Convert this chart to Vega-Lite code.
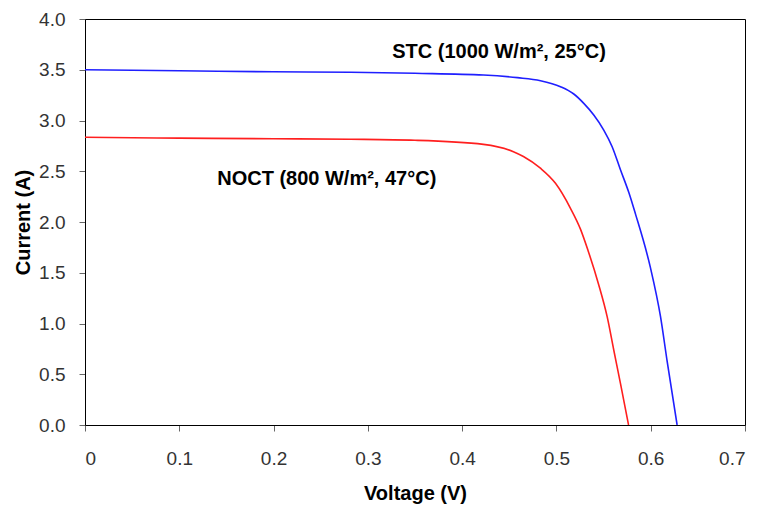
{
  "$schema": "https://vega.github.io/schema/vega-lite/v6.json",
  "width": 660,
  "height": 406,
  "autosize": {"type": "none"},
  "padding": {"left": 85, "top": 19, "right": 14, "bottom": 83},
  "background": "white",
  "config": {
    "font": "Liberation Sans",
    "view": {"stroke": "black", "strokeWidth": 1},
    "axis": {
      "grid": false,
      "domainColor": "black",
      "domainWidth": 1,
      "tickColor": "#666666",
      "tickSize": 6,
      "labelFont": "Liberation Sans",
      "labelFontSize": 19,
      "labelColor": "#333333",
      "titleFont": "Liberation Sans",
      "titleFontSize": 20,
      "titleFontWeight": "bold",
      "titleColor": "black"
    }
  },
  "layer": [
    {
      "data": {
        "values": [
          {"series": "STC", "v": 0.0, "i": 3.50},
          {"series": "STC", "v": 0.1, "i": 3.49},
          {"series": "STC", "v": 0.2, "i": 3.48},
          {"series": "STC", "v": 0.2816, "i": 3.475},
          {"series": "STC", "v": 0.35, "i": 3.465},
          {"series": "STC", "v": 0.4226, "i": 3.448},
          {"series": "STC", "v": 0.4587, "i": 3.422},
          {"series": "STC", "v": 0.4831, "i": 3.392},
          {"series": "STC", "v": 0.5043, "i": 3.333},
          {"series": "STC", "v": 0.5184, "i": 3.261},
          {"series": "STC", "v": 0.529, "i": 3.169},
          {"series": "STC", "v": 0.5396, "i": 3.054},
          {"series": "STC", "v": 0.5502, "i": 2.906},
          {"series": "STC", "v": 0.5591, "i": 2.742},
          {"series": "STC", "v": 0.5679, "i": 2.515},
          {"series": "STC", "v": 0.5768, "i": 2.29},
          {"series": "STC", "v": 0.5838, "i": 2.08},
          {"series": "STC", "v": 0.5997, "i": 1.55},
          {"series": "STC", "v": 0.6104, "i": 1.067},
          {"series": "STC", "v": 0.6174, "i": 0.63},
          {"series": "STC", "v": 0.628, "i": 0.0},
          {"series": "NOCT", "v": 0.0, "i": 2.835},
          {"series": "NOCT", "v": 0.1, "i": 2.826},
          {"series": "NOCT", "v": 0.2, "i": 2.82},
          {"series": "NOCT", "v": 0.2816, "i": 2.815},
          {"series": "NOCT", "v": 0.35, "i": 2.805},
          {"series": "NOCT", "v": 0.4226, "i": 2.765},
          {"series": "NOCT", "v": 0.4544, "i": 2.693},
          {"series": "NOCT", "v": 0.465, "i": 2.645},
          {"series": "NOCT", "v": 0.483, "i": 2.53},
          {"series": "NOCT", "v": 0.499, "i": 2.381},
          {"series": "NOCT", "v": 0.5149, "i": 2.135},
          {"series": "NOCT", "v": 0.5255, "i": 1.93},
          {"series": "NOCT", "v": 0.5335, "i": 1.72},
          {"series": "NOCT", "v": 0.5449, "i": 1.38},
          {"series": "NOCT", "v": 0.5538, "i": 1.067},
          {"series": "NOCT", "v": 0.5608, "i": 0.739},
          {"series": "NOCT", "v": 0.5679, "i": 0.411},
          {"series": "NOCT", "v": 0.5765, "i": 0.0}
        ]
      },
      "mark": {"type": "line", "strokeWidth": 1.6, "interpolate": "monotone", "clip": true},
      "encoding": {
        "x": {
          "field": "v", "type": "quantitative", "title": "Voltage (V)",
          "scale": {"domain": [0, 0.7], "nice": false, "zero": false},
          "axis": {"values": [0, 0.1, 0.2, 0.3, 0.4, 0.5, 0.6, 0.7], "labelExpr": "datum.value == 0 ? '0' : format(datum.value, '.1f')", "labelPadding": 18, "titlePadding": 15}
        },
        "y": {
          "field": "i", "type": "quantitative", "title": "Current (A)",
          "scale": {"domain": [0, 4], "nice": false},
          "axis": {"values": [0, 0.5, 1, 1.5, 2, 2.5, 3, 3.5, 4], "format": ".1f", "labelPadding": 14, "titlePadding": 5}
        },
        "color": {
          "field": "series", "type": "nominal",
          "scale": {"domain": ["STC", "NOCT"], "range": ["#1f1fff", "#ff1f1f"]},
          "legend": null
        },
        "detail": {"field": "series"}
      }
    },
    {
      "data": {
        "values": [
          {"label": "STC (1000 W/m², 25°C)", "v": 0.3258, "i": 3.616},
          {"label": "NOCT (800 W/m², 47°C)", "v": 0.1402, "i": 2.365}
        ]
      },
      "mark": {"type": "text", "align": "left", "baseline": "alphabetic", "fontSize": 20, "fontWeight": "bold", "font": "Liberation Sans", "color": "black"},
      "encoding": {
        "x": {"field": "v", "type": "quantitative"},
        "y": {"field": "i", "type": "quantitative"},
        "text": {"field": "label"}
      }
    }
  ]
}
